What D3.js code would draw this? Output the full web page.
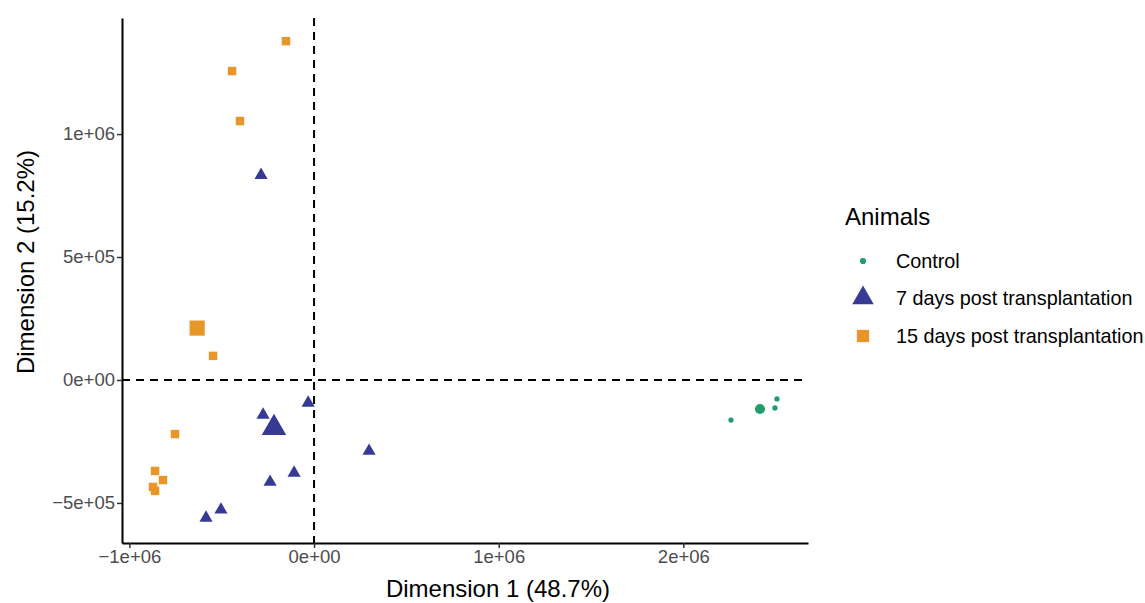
<!DOCTYPE html>
<html>
<head>
<meta charset="utf-8">
<script src="https://cdn.jsdelivr.net/npm/d3@7"></script>
<style>
  body { margin: 0; background: #fff; }
  text { font-family: Arial, "Liberation Sans", sans-serif; }
</style>
</head>
<body>
<div id="mds"></div>
<script>
// MDS plot: Dimension 1 vs Dimension 2, grouped by animal group

const groups = ["Control", "7 days post transplantation", "15 days post transplantation"];
const groupColors = ["#1f9e6b", "#363a94", "#e8962a"];

// Control
const controlX = [2.258e6, 2.415e6, 2.496e6, 2.507e6];
const controlY = [-0.163e6, -0.118e6, -0.114e6, -0.077e6];
const controlBig = [0, 1, 0, 0];

// 7 days
const day7X = [-0.287e6, 0.298e6, -0.032e6, -0.276e6, -0.217e6, -0.108e6, -0.238e6, -0.504e6, -0.585e6];
const day7Y = [0.833e6, -0.289e6, -0.093e6, -0.142e6, -0.195e6, -0.378e6, -0.415e6, -0.528e6, -0.561e6];
const day7Big = [0, 0, 0, 0, 1, 0, 0, 0, 0];

// 15 days
const day15X = [-0.152e6, -0.444e6, -0.401e6, -0.633e6, -0.547e6, -0.753e6, -0.861e6, -0.818e6, -0.872e6, -0.861e6];
const day15Y = [1.378e6, 1.256e6, 1.053e6, 0.211e6, 0.098e6, -0.220e6, -0.370e6, -0.407e6, -0.435e6, -0.451e6];
const day15Big = [0, 0, 0, 1, 0, 0, 0, 0, 0, 0];

const xTicks = [-1e6, 0, 1e6, 2e6];
const xTickLabels = ["\u22121e+06", "0e+00", "1e+06", "2e+06"];
const yTicks = [-5e5, 0, 5e5, 1e6];
const yTickLabels = ["\u22125e+05", "0e+00", "5e+05", "1e+06"];

(function() {
    const W = 1145, H = 603;
    const margin = {top: 18, right: 337, bottom: 60, left: 122},
        width = W - margin.left - margin.right,
        height = H - margin.top - margin.bottom;

    const svg = d3.select("#mds")
        .append("svg")
        .attr("width", W)
        .attr("height", H);

    const g = svg.append("g")
        .attr("transform", `translate(${margin.left},${margin.top})`);

    const x = d3.scaleLinear().domain([-1.04e6, 2.675e6]).range([0, width]);
    const y = d3.scaleLinear().domain([-0.663e6, 1.472e6]).range([height, 0]);

    const points = [];
    const add = (xs, ys, big, gi) => xs.forEach((v, i) =>
        points.push({x: v, y: ys[i], big: big[i], g: gi}));
    add(controlX, controlY, controlBig, 0);
    add(day7X, day7Y, day7Big, 1);
    add(day15X, day15Y, day15Big, 2);

    // reference lines at zero
    g.append("line")
        .attr("x1", 0).attr("x2", width)
        .attr("y1", y(0)).attr("y2", y(0))
        .attr("stroke", "#000").attr("stroke-width", 2)
        .attr("stroke-dasharray", "8,6");
    g.append("line")
        .attr("x1", x(0)).attr("x2", x(0))
        .attr("y1", 0).attr("y2", height)
        .attr("stroke", "#000").attr("stroke-width", 2)
        .attr("stroke-dasharray", "8,6");

    // symbols: circle, triangle, square
    const shapes = [d3.symbolCircle, d3.symbolTriangle, d3.symbolSquare];
    const sizes = [[22, 80], [75, 260], [72, 230]];

    g.selectAll("path.pt")
        .data(points)
        .enter()
        .append("path")
        .attr("class", "pt")
        .attr("transform", d => `translate(${x(d.x)},${y(d.y)})`)
        .attr("d", d => d3.symbol().type(shapes[d.g]).size(sizes[d.g][d.big])())
        .attr("fill", d => groupColors[d.g]);

    // axes
    const xAxis = g.append("g")
        .attr("transform", `translate(0,${height})`)
        .call(d3.axisBottom(x).tickValues(xTicks).tickSize(5).tickSizeOuter(0)
            .tickFormat((d, i) => xTickLabels[i]));
    const yAxis = g.append("g")
        .call(d3.axisLeft(y).tickValues(yTicks).tickSize(5).tickSizeOuter(0)
            .tickFormat((d, i) => yTickLabels[i]));

    [xAxis, yAxis].forEach(a => {
        a.select(".domain").attr("stroke", "#000").attr("stroke-width", 2);
        a.selectAll(".tick line").attr("stroke", "#333").attr("stroke-width", 1.5);
        a.selectAll(".tick text")
            .attr("fill", "#4d4d4d")
            .style("font-size", "18.5px")
            .style("font-family", "Arial, 'Liberation Sans', sans-serif");
    });
    xAxis.selectAll(".tick text").attr("y", 7).attr("dy", "0.72em");
    yAxis.selectAll(".tick text").attr("x", -7);

    // axis titles
    g.append("text")
        .attr("x", 498 - margin.left)
        .attr("y", height + 54)
        .attr("text-anchor", "middle")
        .style("font-size", "24px")
        .text("Dimension 1 (48.7%)");

    g.append("text")
        .attr("transform", "rotate(-90)")
        .attr("x", -(262 - margin.top))
        .attr("y", -88)
        .attr("text-anchor", "middle")
        .style("font-size", "24px")
        .text("Dimension 2 (15.2%)");

    // legend
    const lg = svg.append("g").attr("transform", "translate(845,0)");
    lg.append("text")
        .attr("x", 0).attr("y", 225)
        .style("font-size", "24px")
        .text("Animals");

    const legendY = [261, 298, 336];
    const legendSize = [30, 200, 150];
    groups.forEach((name, i) => {
        lg.append("path")
            .attr("transform", `translate(18,${legendY[i]})`)
            .attr("d", d3.symbol().type(shapes[i]).size(legendSize[i])())
            .attr("fill", groupColors[i]);
        lg.append("text")
            .attr("x", 51).attr("y", legendY[i])
            .attr("dy", "0.35em")
            .style("font-size", "19.8px")
            .text(name);
    });
})();
</script>
</body>
</html>
